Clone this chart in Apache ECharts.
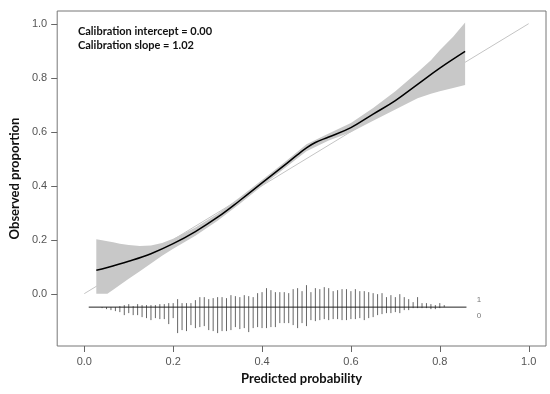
<!DOCTYPE html>
<html><head><meta charset="utf-8">
<script src="https://cdn.jsdelivr.net/npm/echarts@6/dist/echarts.min.js"></script>
<style>html,body{margin:0;padding:0;background:#fff}#c{width:550px;height:394px}</style>
</head><body><div id="c"></div>
<script>
// ---- data ----
const curveX = [0.027,0.05,0.10,0.15,0.20,0.25,0.30,0.35,0.40,0.45,0.48,0.50,0.52,0.55,0.60,0.65,0.70,0.75,0.80,0.857];
const curveY = [0.087,0.096,0.120,0.148,0.185,0.230,0.283,0.345,0.410,0.475,0.515,0.540,0.560,0.580,0.615,0.665,0.715,0.775,0.835,0.897];
const bandX  = [0.027,0.04,0.052,0.065,0.08,0.10,0.125,0.15,0.175,0.20,0.25,0.30,0.35,0.40,0.45,0.50,0.55,0.60,0.65,0.70,0.75,0.78,0.80,0.83,0.857];
const bandUp = [0.201,0.198,0.194,0.190,0.185,0.180,0.176,0.178,0.188,0.203,0.245,0.296,0.357,0.421,0.486,0.553,0.593,0.632,0.688,0.750,0.820,0.865,0.902,0.952,1.004];
const bandLo = [0.000,0.000,0.000,0.014,0.032,0.055,0.083,0.112,0.140,0.166,0.214,0.270,0.333,0.399,0.464,0.527,0.567,0.598,0.640,0.682,0.724,0.740,0.750,0.762,0.773];
// spike histogram: bins 0.04..0.81 step 0.01, relative counts of events (1, up) and non-events (0, down)
const spikeX = [0.04,0.05,0.06,0.07,0.08,0.09,0.10,0.11,0.12,0.13,0.14,0.15,0.16,0.17,0.18,0.19,0.20,0.21,0.22,0.23,0.24,0.25,0.26,0.27,0.28,0.29,0.30,0.31,0.32,0.33,0.34,0.35,0.36,0.37,0.38,0.39,0.40,0.41,0.42,0.43,0.44,0.45,0.46,0.47,0.48,0.49,0.50,0.51,0.52,0.53,0.54,0.55,0.56,0.57,0.58,0.59,0.60,0.61,0.62,0.63,0.64,0.65,0.66,0.67,0.68,0.69,0.70,0.71,0.72,0.73,0.74,0.75,0.76,0.77,0.78,0.79,0.80,0.81];
const spikeUp = [0,0,0,0,1,2,3,1,3,2,2,2,2,3,3,4,4,8,4,4,4,7,10,10,8,9,10,10,9,12,11,10,12,11,10,14,15,19,17,15,15,15,14,18,19,16,22,15,19,18,20,19,16,17,18,18,16,18,16,16,15,14,13,14,10,12,10,13,10,8,5,10,4,4,3,2,4,2];
const spikeDown = [1,2,3,4,5,8,6,8,8,10,11,13,11,12,12,17,11,26,23,24,18,21,20,19,23,24,26,24,24,23,20,22,21,25,21,20,21,21,20,20,16,16,16,18,21,16,19,13,14,13,12,13,12,12,13,13,12,12,11,13,11,10,8,7,6,6,5,6,3,3,1,1,1,1,2,2,1,0];
const spikeUnit = 0.0037;     // proportion per count unit
const spikeBase = -0.05;
const spikeRange = [0.01, 0.86];
const tickVals = [0, 0.2, 0.4, 0.6, 0.8, 1.0];
const annot = ['Calibration intercept = 0.00', 'Calibration slope = 1.02'];

const X_MIN=-0.061, X_MAX=1.039, Y_MIN=-0.194, Y_MAX=1.047;
const chart = echarts.init(document.getElementById('c'));
const lbl = {fontFamily:'Liberation Sans, Arial, sans-serif', fontSize:11, color:'#555', formatter:v=>v.toFixed(1)};
const boldFont = 'Lato, sans-serif';
chart.setOption({
  animation:false,
  grid:{left:51,right:4,top:11,bottom:48,show:true,borderColor:'#777',borderWidth:1,backgroundColor:'transparent'},
  xAxis:{type:'value',min:X_MIN,max:X_MAX,
    axisLine:{show:false,onZero:false},splitLine:{show:false},axisTick:{show:false},
    axisLabel:Object.assign({customValues:tickVals,margin:10},lbl),
    name:'Predicted probability',nameLocation:'middle',nameGap:26,
    nameTextStyle:{fontFamily:boldFont,fontWeight:'bold',fontSize:13,color:'#111'}},
  yAxis:{type:'value',min:Y_MIN,max:Y_MAX,
    axisLine:{show:false,onZero:false},splitLine:{show:false},axisTick:{show:false},
    axisLabel:Object.assign({customValues:tickVals,margin:10},lbl),
    name:'Observed proportion',nameLocation:'middle',nameGap:36,
    nameTextStyle:{fontFamily:boldFont,fontWeight:'bold',fontSize:13,color:'#111'}},
  series:[
    {type:'line',data:[[0,0],[1,1]],symbol:'none',lineStyle:{color:'#c4c4c4',width:1},z:1},
    {type:'custom',data:[0],z:2,
      renderItem:(params,api)=>{
        const pts=[];
        bandX.forEach((x,i)=>pts.push(api.coord([x,bandUp[i]])));
        for(let i=bandX.length-1;i>=0;i--) pts.push(api.coord([bandX[i],bandLo[i]]));
        return {type:'polygon',shape:{points:pts},style:{fill:'#c8c8c8',stroke:null}};
      }},
    {type:'line',data:curveX.map((x,i)=>[x,curveY[i]]),symbol:'none',smooth:0.4,lineStyle:{color:'#000',width:1.5},z:4},
    {type:'line',data:spikeRange.map(x=>[x,spikeBase]),symbol:'none',lineStyle:{color:'#222',width:1},z:3},
    {type:'custom',data:spikeX.map((x,i)=>[x,spikeUp[i],spikeDown[i]]),z:3,
      renderItem:(params,api)=>{
        const x=api.value(0);
        const p0=api.coord([x,spikeBase+api.value(1)*spikeUnit]);
        const p1=api.coord([x,spikeBase-api.value(2)*spikeUnit]);
        return {type:'line',shape:{x1:p0[0],y1:p0[1],x2:p1[0],y2:p1[1]},style:{stroke:'#666',lineWidth:1}};
      }},
    {type:'scatter',symbolSize:0,data:[[0.888,-0.021,'1'],[0.888,-0.082,'0']],z:5,
      label:{show:true,position:'inside',formatter:p=>p.data[2],fontSize:8,color:'#555',fontFamily:'Liberation Sans, Arial, sans-serif'}}
  ]
});
// tick marks (outward) and annotations, positioned through the grid's scales
const g = [
  {type:'text',left:78,top:26,z:10,style:{text:annot[0],font:'bold 11px '+boldFont,fill:'#111'}},
  {type:'text',left:78,top:40,z:10,style:{text:annot[1],font:'bold 11px '+boldFont,fill:'#111'}}
];
tickVals.forEach(v=>{
  const px = chart.convertToPixel({gridIndex:0},[v,Y_MIN]);
  const py = chart.convertToPixel({gridIndex:0},[X_MIN,v]);
  const sx = Math.round(px[0])+0.5, sy = Math.round(py[1])+0.5;
  g.push({type:'line',z:10,shape:{x1:sx,y1:px[1],x2:sx,y2:px[1]+6},style:{stroke:'#666',lineWidth:1}});
  g.push({type:'line',z:10,shape:{x1:py[0],y1:sy,x2:py[0]-6,y2:sy},style:{stroke:'#666',lineWidth:1}});
});
chart.setOption({graphic:g});
</script></body></html>
